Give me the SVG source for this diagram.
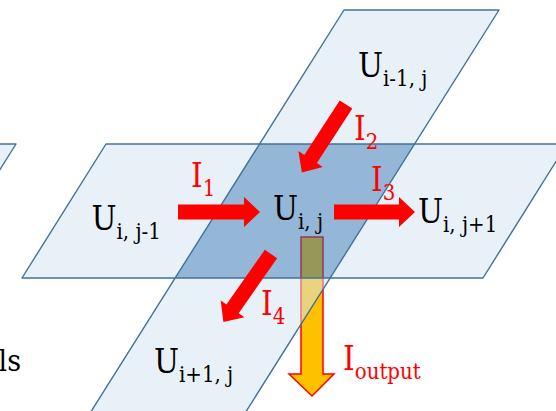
<svg xmlns="http://www.w3.org/2000/svg" width="556" height="411" viewBox="0 0 556 411">
<style>
.pf{fill:#D5E4F2;fill-opacity:0.52;fill-rule:evenodd;stroke:none}
.ov{fill:#2B6FAF;fill-opacity:0.5;stroke:none}
.ps{fill:none;stroke:#41719C;stroke-width:1.4;stroke-linejoin:round}
.arr{fill:#FF0000;stroke:none}
text{font-family:'DejaVu Serif Condensed','DejaVu Serif',serif;font-stretch:condensed}
</style>
<rect x="0" y="0" width="556" height="411" fill="#FFFFFF"/>

<g id="connector-output">
  <path d="M301,237 H323 V374 H334 L312,396 L289,374 H301 Z" fill="#FFC000" stroke="#FF0000" stroke-width="1.5" stroke-linejoin="miter"/>
</g>

<g id="plane-left">
  <path class="pf" d="M16,144 L-200,144 L-284,278 L-68,278 Z"/>
  <path class="ps" d="M16,144 L-200,144 L-284,278 L-68,278 Z"/>
</g>

<g id="plane-row">
  <path class="pf" d="M106,144 L567,144 L483,278 L22,278 Z M259.6,144 L414.6,144 L330,278 L175,278 Z"/>
</g>
<g id="plane-column">
  <path class="pf" d="M344,10 L499,10 L234.4,430 L79.4,430 Z M259.6,144 L414.6,144 L330,278 L175,278 Z"/>
</g>
<g id="plane-overlap">
  <path class="ov" d="M259.6,144 L414.6,144 L330,278 L175,278 Z"/>
</g>
<g id="plane-strokes">
  <path class="ps" d="M106,144 L567,144 L483,278 L22,278 Z"/>
  <path class="ps" d="M344,10 L499,10 L234.4,430 L79.4,430 Z"/>
</g>

<g font-size="33" fill="#000000">
<g id="node-u-im1-j">
  <text x="358" y="77">U<tspan font-size="22" dy="9">i-1, j</tspan></text>
</g>
<g id="node-u-i-jm1">
  <text x="91.5" y="230">U<tspan font-size="22" dy="9">i, j-1</tspan></text>
</g>
<g id="node-u-i-j">
  <text x="273" y="220">U<tspan font-size="22" dy="9">i, j</tspan></text>
</g>
<g id="node-u-i-jp1">
  <text x="418" y="223">U<tspan font-size="22" dy="9">i, j+1</tspan></text>
</g>
<g id="node-u-ip1-j">
  <text x="154" y="373">U<tspan font-size="22" dy="9">i+1, j</tspan></text>
</g>
<g id="fragment-ls">
  <text x="21" y="371" text-anchor="end" font-size="30">ls</text>
</g>
</g>

<g id="connectors">
  <path class="arr" transform="translate(178,212)" d="M0,-7.5 H66 V-15 L82,0 L66,15 V7.5 H0 Z"/>
  <path class="arr" transform="translate(334,212)" d="M0,-7.5 H65 V-15 L81,0 L65,15 V7.5 H0 Z"/>
  <path class="arr" transform="translate(346,104.5) rotate(123)" d="M0,-7.5 H65 V-14.5 L81,0 L65,14.5 V7.5 H0 Z"/>
  <path class="arr" transform="translate(271,254) rotate(125)" d="M0,-7.5 H67 V-14.5 L83,0 L67,14.5 V7.5 H0 Z"/>
</g>

<g id="labels" font-size="33" fill="#FF0000">
  <text x="191" y="187">I<tspan font-size="22" dy="9">1</tspan></text>
  <text x="354" y="140">I<tspan font-size="22" dy="9">2</tspan></text>
  <text x="371" y="191">I<tspan font-size="22" dy="9">3</tspan></text>
  <text x="261" y="315">I<tspan font-size="22" dy="9">4</tspan></text>
  <text x="343" y="370">I<tspan font-size="22" dy="9">output</tspan></text>
</g>
</svg>
